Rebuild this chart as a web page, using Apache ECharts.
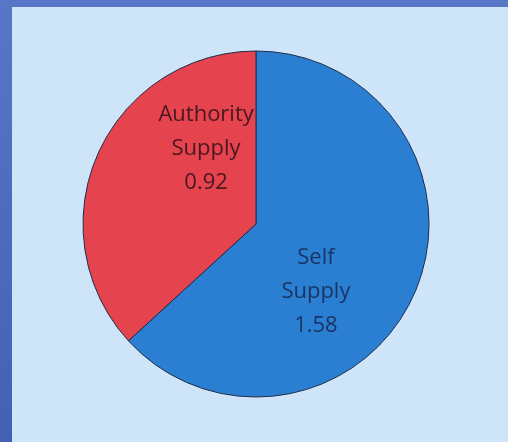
<!DOCTYPE html>
<html>
<head>
<meta charset="utf-8">
<script src="https://cdn.jsdelivr.net/npm/echarts@6/dist/echarts.min.js"></script>
<style>
  html, body { margin: 0; padding: 0; }
  #chart { width: 508px; height: 442px; }
</style>
</head>
<body>
<div id="chart"></div>
<script>
// slice data
const categories = ['Self\nSupply', 'Authority\nSupply'];
const values = [1.58, 0.92];
const sliceColors = ['#2b7fd3', '#e5434e'];
const labelColors = ['#1a3564', '#481820'];

const chart = echarts.init(document.getElementById('chart'));

const option = {
  backgroundColor: {
    type: 'linear', x: 0, y: 0, x2: 0, y2: 1,
    colorStops: [
      { offset: 0, color: '#5777c6' },
      { offset: 1, color: '#4460b2' }
    ]
  },
  graphic: [
    {
      type: 'rect',
      shape: { x: 12, y: 7, width: 496, height: 435 },
      style: { fill: '#cee4f8' },
      z: -1
    }
  ],
  series: [
    {
      type: 'pie',
      center: [256, 224],
      radius: 173,
      startAngle: 90,
      clockwise: true,
      silent: true,
      animation: false,
      itemStyle: { borderColor: '#1e2c4c', borderWidth: 1 },
      label: {
        show: true,
        position: 'inner',
        fontFamily: 'Open Sans',
        fontSize: 22,
        lineHeight: 34,
        align: 'center',
        formatter: p => p.name + '\n' + p.value.toFixed(2)
      },
      labelLine: { show: false },
      // nudge labels to where they sit in the reference
      labelLayout: function (params) {
        const shift = [[-22, 32], [32, -39]];
        const s = shift[params.dataIndex];
        return { dx: s[0], dy: s[1] };
      },
      data: categories.map((name, i) => ({
        name: name,
        value: values[i],
        itemStyle: { color: sliceColors[i] },
        label: { color: labelColors[i] }
      }))
    }
  ]
};

chart.setOption(option);
</script>
</body>
</html>
